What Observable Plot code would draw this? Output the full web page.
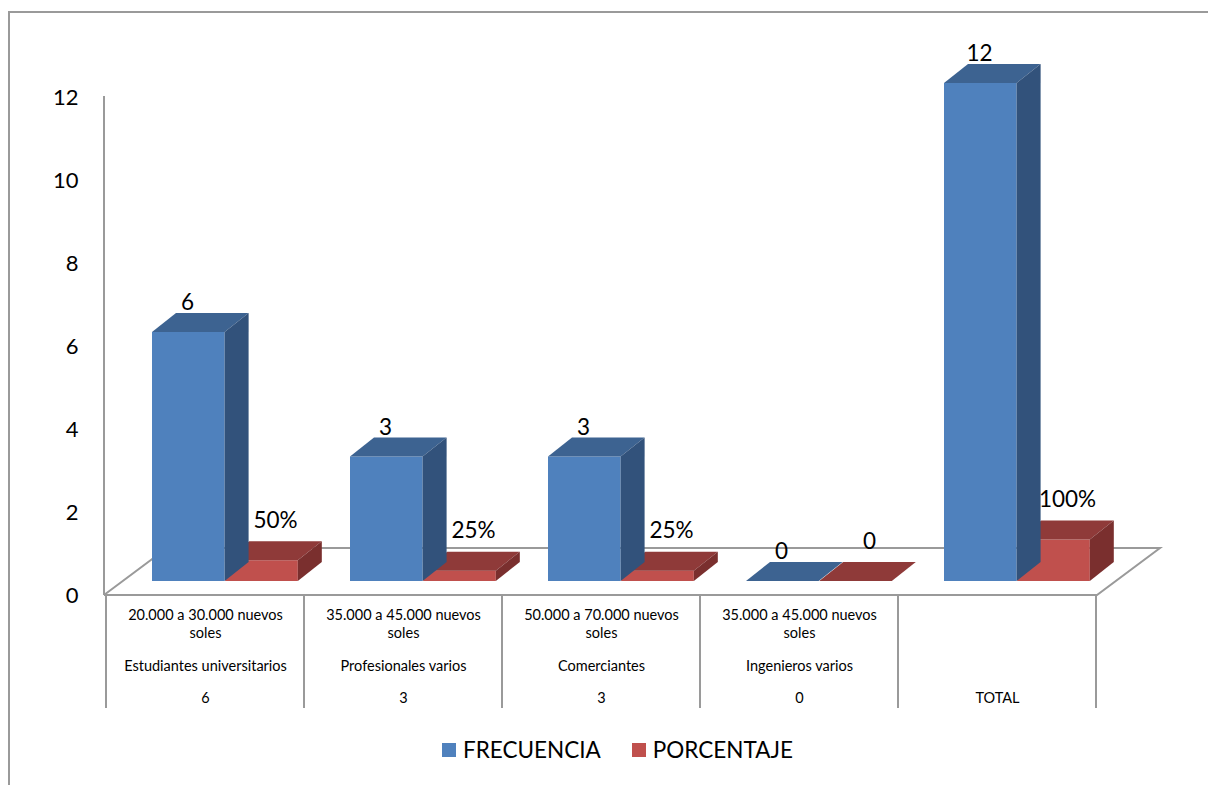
<!DOCTYPE html>
<html>
<head>
<meta charset="utf-8">
<script src="https://cdn.jsdelivr.net/npm/d3@7"></script>
<script src="https://cdn.jsdelivr.net/npm/@observablehq/plot@0.6"></script>
<style>
  html, body { margin: 0; padding: 0; background: #fff; }
  body { width: 1208px; height: 785px; position: relative; overflow: hidden; font-family: Lato, "Open Sans", sans-serif; }
  #chart { position: absolute; left: 0; top: 0; }
  #border { position: absolute; left: 8px; top: 11px; width: 1400px; height: 900px; border-left: 2px solid #9a9a9a; border-top: 2px solid #9a9a9a; pointer-events: none; }
  #legend { position: absolute; left: 442px; top: 736px; display: flex; align-items: center; font-size: 22.5px; color: #000; }
  #legend .item { display: flex; align-items: center; margin-right: 31px; }
  #legend .sw { width: 14px; height: 14px; margin-right: 7px; }
</style>
</head>
<body>
<div id="chart"></div>
<div id="border"></div>
<div id="legend"></div>
<script>
// ---- data ----
const categories = ["Estudiantes universitarios", "Profesionales varios", "Comerciantes", "Ingenieros varios", "TOTAL"];
const rangeLine1 = ["20.000 a 30.000 nuevos", "35.000 a 45.000 nuevos", "50.000 a 70.000 nuevos", "35.000 a 45.000 nuevos", ""];
const rangeLine2 = ["soles", "soles", "soles", "soles", ""];
const occupation = ["Estudiantes universitarios", "Profesionales varios", "Comerciantes", "Ingenieros varios", ""];
const countRow = ["6", "3", "3", "0", "TOTAL"];
const frecuencia = [6, 3, 3, 0, 12];
const porcentaje = [0.5, 0.25, 0.25, 0, 1];
const frecuenciaLabels = ["6", "3", "3", "0", "12"];
const porcentajeLabels = ["50%", "25%", "25%", "0", "100%"];
const yTicks = [0, 2, 4, 6, 8, 10, 12];
const seriesNames = ["FRECUENCIA", "PORCENTAJE"];

// ---- styles ----
const COL = {
  blue: {front: "#4F81BD", top: "#3D6391", side: "#32527B"},
  red:  {front: "#C0504D", top: "#8F3A39", side: "#7A2F2E"}
};
const GRID = "#9a9a9a";
const FONT = "Lato, 'Open Sans', sans-serif";
const W = 1208, H = 725;
const BAR_DY = -14;            // bars sit in the middle of the floor depth
const BAR_DEPTH = [24, -19];   // bar depth offset (px)
const FLOOR_DEPTH = [63, -47]; // floor depth offset (px)
const TABLE_H = 113;
const BLUE_INSET = [46, 79.4];
const RED_INSET = [119.2, 6.2];
const TABLE_FONT = 14.5;

const rowsF = categories.map((c, i) => ({cat: c, value: frecuencia[i], label: frecuenciaLabels[i]}));
const rowsP = categories.map((c, i) => ({cat: c, value: porcentaje[i], label: porcentajeLabels[i]}));
const table = categories.map((c, i) => ({cat: c, l1: rangeLine1[i], l2: rangeLine2[i], occ: occupation[i], n: countRow[i]}));

const zero = () => 0;
const chart = Plot.plot({
  width: W, height: H,
  marginLeft: 104, marginRight: 111, marginTop: 97, marginBottom: 130,
  style: {fontFamily: FONT, fontSize: "22px", color: "#000", background: "transparent", overflow: "visible"},
  x: {domain: categories, padding: 0, axis: null},
  y: {domain: [0, 12], ticks: yTicks, tickSize: 0, tickPadding: 26, label: null},
  marks: [
    Plot.barY(rowsP, {x: "cat", y1: zero, y2: "value", fill: COL.red.front, insetLeft: RED_INSET[0], insetRight: RED_INSET[1], dy: BAR_DY}),
    Plot.barY(rowsF, {x: "cat", y1: zero, y2: "value", fill: COL.blue.front, insetLeft: BLUE_INSET[0], insetRight: BLUE_INSET[1], dy: BAR_DY}),
    Plot.text(rowsF, {x: "cat", y: "value", text: "label", dx: -18, dy: -43.5, fontSize: 22.5, fill: "#000"}),
    Plot.text(rowsP, {x: "cat", y: "value", text: "label", dx: 70, dy: -54, fontSize: 22.5, fill: "#000"}),
    Plot.text(table, {x: "cat", y: zero, text: "l1", dy: 20, fontSize: TABLE_FONT, fill: "#000"}),
    Plot.text(table, {x: "cat", y: zero, text: "l2", dy: 38, fontSize: TABLE_FONT, fill: "#000"}),
    Plot.text(table, {x: "cat", y: zero, text: "occ", dy: 71, fontSize: TABLE_FONT, fill: "#000"}),
    Plot.text(table, {x: "cat", y: zero, text: "n", dy: 103, fontSize: TABLE_FONT, fill: "#000"})
  ]
});
document.getElementById("chart").appendChild(chart);

// ---- 3D faces, floor & table grid, positioned with the plot's own scales ----
const xs = chart.scale("x"), ys = chart.scale("y");
const sx = xs.apply ? v => xs.apply(v)
  : (s => v => s(v))(d3.scaleBand().domain(xs.domain).range(xs.range).paddingInner(xs.paddingInner || 0).paddingOuter(xs.paddingOuter || 0).align(xs.align ?? 0.5));
const sy = ys.apply ? v => ys.apply(v) : d3.scaleLinear().domain(ys.domain).range(ys.range);
const bw = xs.bandwidth;
const svg = d3.select(chart);
const r0 = Math.min(...xs.range), r1 = Math.max(...xs.range), y0 = sy(0);

// floor + axis line (below everything)
const under = svg.insert("g", ":first-child").attr("fill", "none").attr("stroke", GRID).attr("stroke-width", 2);
under.append("path").attr("d", d3.line()([[r0, y0], [r1, y0], [r1 + FLOOR_DEPTH[0], y0 + FLOOR_DEPTH[1]], [r0 + FLOOR_DEPTH[0], y0 + FLOOR_DEPTH[1]], [r0, y0]]));
under.append("line").attr("x1", r0).attr("x2", r0).attr("y1", sy(0)).attr("y2", sy(12) - 1);
const bounds = categories.map(c => sx(c)).concat([sx(categories[categories.length - 1]) + bw]);
for (const bx of bounds) under.append("line").attr("x1", bx).attr("x2", bx).attr("y1", y0).attr("y2", y0 + TABLE_H);

// tops and sides
const faces = svg.append("g");
function drawFaces(rows, inset, col) {
  for (const d of rows) {
    const c0 = sx(d.cat);
    const xa = c0 + inset[0], xb = c0 + bw - inset[1];
    const top = sy(d.value) + BAR_DY, bot = sy(0) + BAR_DY;
    const [ddx, ddy] = BAR_DEPTH;
    faces.append("path").attr("fill", col.top)
      .attr("d", d3.line()([[xa, top], [xb, top], [xb + ddx, top + ddy], [xa + ddx, top + ddy]]) + "Z");
    if (bot - top > 0.01)
      faces.append("path").attr("fill", col.side)
        .attr("d", d3.line()([[xb, top], [xb + ddx, top + ddy], [xb + ddx, bot + ddy], [xb, bot]]) + "Z");
  }
}
drawFaces(rowsP, RED_INSET, COL.red);
drawFaces(rowsF, BLUE_INSET, COL.blue);
// keep text on top
svg.selectAll("g[aria-label=text]").each(function() { this.parentNode.appendChild(this); });

// ---- legend ----
const legend = d3.select("#legend");
[[seriesNames[0], COL.blue.front], [seriesNames[1], COL.red.front]].forEach(([name, c]) => {
  const it = legend.append("div").attr("class", "item");
  it.append("div").attr("class", "sw").style("background", c);
  it.append("span").text(name);
});
</script>
</body>
</html>
